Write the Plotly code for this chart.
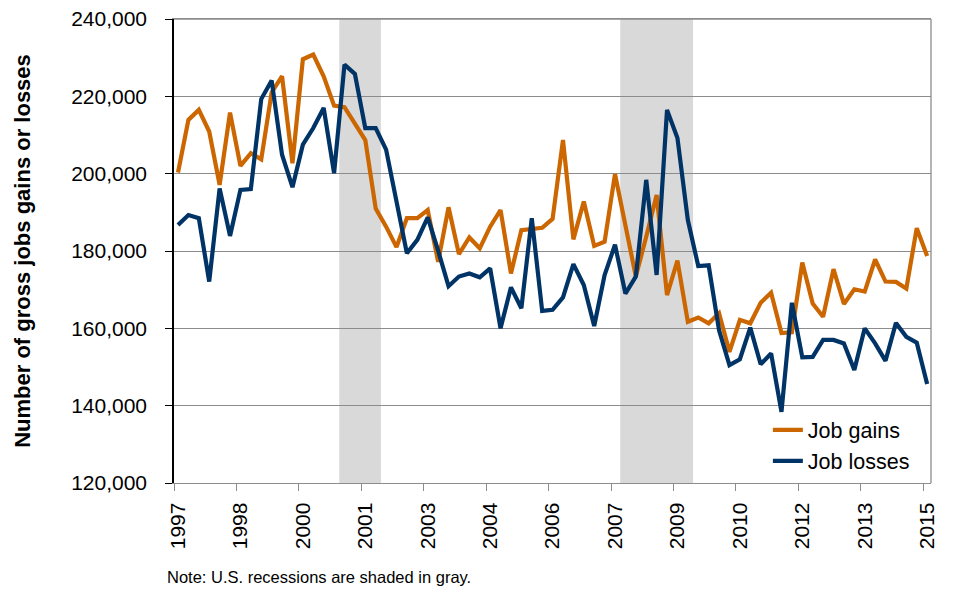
import plotly.graph_objects as go

# ---- data ----
quarters = [f"{y}Q{q}" for y in range(1997, 2016) for q in range(1, 5)][:73]

job_gains = [200300, 213900, 216500, 210900, 197100, 215800, 202000, 205300, 203700, 221000,
             225200, 202700, 229600, 230800, 225200, 217600, 217200, 213000, 208700, 191000,
             186300, 181000, 188500, 188500, 190600, 177200, 191300, 179200, 183500, 180700,
             186300, 190600, 174200, 185400, 185600, 186000, 188300, 208700, 183000, 192800,
             181300, 182400, 199900, 187200, 173400, 183700, 194500, 168600, 177500, 161700,
             162800, 161300, 163900, 153900, 162200, 161300, 166600, 169200, 158800, 159000,
             177000, 166400, 163000, 175300, 166300, 170100, 169500, 177800, 172100, 172000,
             170300, 185900, 178700]

job_losses = [186700, 189300, 188500, 172100, 196200, 183900, 195800, 196000, 219300, 224100,
              204900, 196500, 207500, 211800, 217000, 200100, 228200, 225800, 211800, 211800,
              206200, 192300, 179400, 182900, 188700, 180100, 170900, 173400, 174200, 173200,
              175500, 160000, 170600, 165200, 188500, 164500, 164800, 168000, 176600, 171200,
              160600, 173800, 181600, 169000, 173400, 198400, 173800, 216500, 209200, 188000,
              176100, 176300, 159500, 150500, 152000, 160200, 150700, 153500, 138400, 166600,
              152500, 152600, 157000, 157000, 156100, 149200, 160000, 156100, 151600, 161400,
              157800, 156300, 145600]

tick_quarters = ["1997Q1", "1998Q3", "2000Q1", "2001Q3", "2003Q1", "2004Q3", "2006Q1",
                 "2007Q3", "2009Q1", "2010Q3", "2012Q1", "2013Q3", "2015Q1"]
tick_labels = ["1997", "1998", "2000", "2001", "2003", "2004", "2006",
               "2007", "2009", "2010", "2012", "2013", "2015"]

recession_start = ["2001Q1", "2007Q4"]
recession_end = ["2001Q4", "2009Q2"]

y_ticks = [120000, 140000, 160000, 180000, 200000, 220000, 240000]

# ---- figure ----
xidx = list(range(len(quarters)))
pos = {q: i for i, q in enumerate(quarters)}

GRID = "#8c8c8c"
FONT = "Arial, Liberation Sans, sans-serif"

fig = go.Figure()
fig.add_trace(go.Scatter(x=xidx, y=job_gains, mode="lines", name="Job gains",
                         line=dict(color="#CC6600", width=4.2)))
fig.add_trace(go.Scatter(x=xidx, y=job_losses, mode="lines", name="Job losses",
                         line=dict(color="#003366", width=4.2)))

for s, e in zip(recession_start, recession_end):
    fig.add_shape(type="rect", xref="x", yref="paper", x0=pos[s] - 0.5, x1=pos[e] + 0.5,
                  y0=0, y1=1, fillcolor="#D9D9D9", line=dict(width=0), layer="between")

# right and top border
fig.add_shape(type="line", xref="paper", yref="paper", x0=1, x1=1, y0=0, y1=1,
              line=dict(color=GRID, width=1.3))
fig.add_shape(type="line", xref="paper", yref="paper", x0=0, x1=1, y0=1, y1=1,
              line=dict(color=GRID, width=1.3))

# the page body adds an 8px margin, so the figure is drawn 8px smaller and offset
fig.update_layout(
    width=945, height=584,
    margin=dict(l=166, r=22, t=11, b=109, autoexpand=False),
    paper_bgcolor="white", plot_bgcolor="white",
    font=dict(family=FONT, size=21, color="black"),
    showlegend=True,
    legend=dict(x=0.7845, y=0.1585, xanchor="left", yanchor="top",
                bgcolor="rgba(0,0,0,0)", font=dict(size=21.5), tracegroupgap=0),
    xaxis=dict(
        range=[-0.385, 72.37],
        tickmode="array",
        tickvals=[pos[q] for q in tick_quarters],
        ticktext=tick_labels,
        tickangle=-90,
        ticks="",
        automargin=False,
        ticklabeloverflow="allow",
        showgrid=False, zeroline=False,
        showline=True, linecolor=GRID, linewidth=1.3, mirror=True,
        tickfont=dict(size=21),
        ticklabelstandoff=10,
        minor=dict(ticks="outside", tick0=-0.385, dtick=6, ticklen=7,
                   tickcolor=GRID, tickwidth=1.3, showgrid=False),
    ),
    yaxis=dict(
        range=[120000, 240000],
        tickmode="array", tickvals=y_ticks,
        tickformat=",",
        ticks="outside", ticklen=7, tickcolor="black", tickwidth=1.3,
        showline=True, linecolor="black", linewidth=1.5,
        showgrid=True, gridcolor=GRID, gridwidth=1.3,
        zeroline=False,
        automargin=False,
        ticklabeloverflow="allow",
        tickfont=dict(size=21),
        ticklabelstandoff=14,
        title=dict(text="<b>Number of gross jobs gains or losses</b>",
                   font=dict(size=22, family=FONT), standoff=34),
    ),
    annotations=[dict(text="Note: U.S. recessions are shaded in gray.",
                      xref="paper", yref="paper", x=-0.012, y=-0.2026,
                      xanchor="left", yanchor="middle", showarrow=False,
                      font=dict(size=16.5, family=FONT))],
)

fig.write_html("out.html")
